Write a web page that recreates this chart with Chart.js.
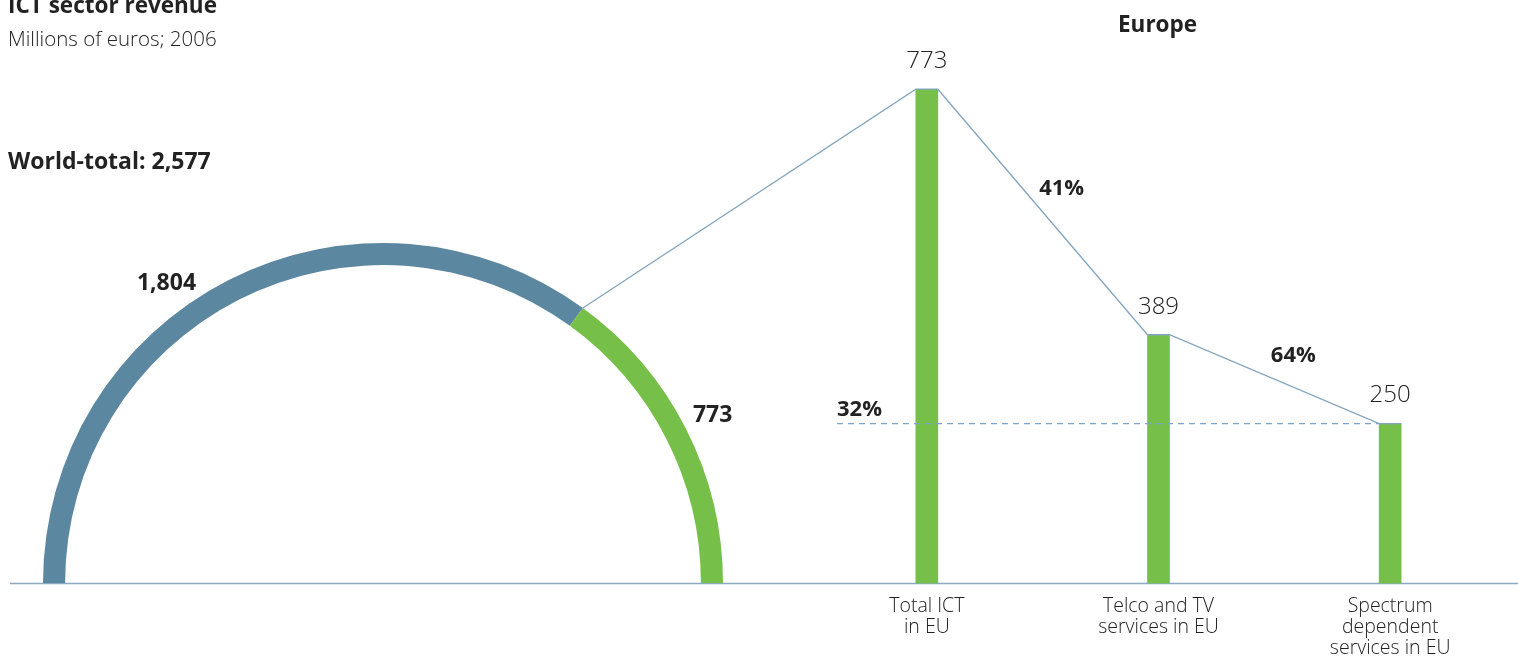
<!DOCTYPE html>
<html><head><meta charset="utf-8">
<script src="https://cdn.jsdelivr.net/npm/chart.js@4.4.1/dist/chart.umd.min.js"></script>
<style>
body{margin:0;width:1518px;height:659px;overflow:hidden;background:#fff;font-family:"Open Sans",sans-serif;color:#222}
canvas{position:absolute;left:0;top:0}
.t{position:absolute;white-space:nowrap;line-height:1}
</style></head><body>
<canvas id="bars" width="1518" height="659"></canvas>
<canvas id="arc" width="1518" height="659"></canvas>
<div class="t" style="left:8px;top:-6px;font-size:22.5px;font-weight:700">ICT sector revenue</div>
<div class="t" style="left:8px;top:28px;font-size:20.5px;font-weight:300;color:#222">Millions of euros; 2006</div>
<div class="t" style="left:8px;top:149px;font-size:23px;font-weight:700">World-total: 2,577</div>
<div class="t" style="left:1118px;top:13px;font-size:22.5px;font-weight:700">Europe</div>
<script>
// ---- data ----
const worldLabels = ['Rest of world', 'EU'];
const worldValues = [1804, 773];
const euCategories = [['Total ICT', 'in EU'], ['Telco and TV', 'services in EU'], ['Spectrum', 'dependent', 'services in EU']];
const euValues = [773, 389, 250];
const stepShares = ['41%', '64%'];
const overallShare = '32%';

const GREEN = '#76bf48', BLUE = '#5b87a1', LINE = '#84a5bf';
const FONT = '"Open Sans", sans-serif';

const barPlugin = {
  id: 'barDeco',
  beforeDatasetsDraw(chart) {
    const ctx = chart.ctx, y0 = chart.scales.y.getPixelForValue(0);
    ctx.save();
    ctx.strokeStyle = '#8aaac4'; ctx.lineWidth = 1.5;
    ctx.beginPath(); ctx.moveTo(10, y0); ctx.lineTo(1518, y0); ctx.stroke();
    ctx.restore();
  },
  afterDatasetsDraw(chart) {
    const ctx = chart.ctx, bars = chart.getDatasetMeta(0).data;
    const last = bars[bars.length - 1];
    ctx.save();
    // dashed reference line at last bar level
    ctx.strokeStyle = '#7aa3cf'; ctx.lineWidth = 1.2; ctx.setLineDash([6, 5]);
    ctx.beginPath(); ctx.moveTo(837, last.y); ctx.lineTo(last.x + last.width / 2, last.y); ctx.stroke();
    ctx.setLineDash([]);
    // value labels
    ctx.fillStyle = '#222'; ctx.textAlign = 'center'; ctx.textBaseline = 'middle';
    ctx.font = '300 24px ' + FONT;
    bars.forEach((b, i) => ctx.fillText(String(euValues[i]), b.x, b.y - 28));
    // share labels
    ctx.fillStyle = '#222'; ctx.font = '700 22px ' + FONT;
    for (let i = 0; i < bars.length - 1; i++) {
      const a = bars[i], c = bars[i + 1];
      const mx = ((a.x + a.width / 2) + (c.x - c.width / 2)) / 2, my = (a.y + c.y) / 2;
      ctx.fillText(stepShares[i], mx + 19, my - 23);
    }
    ctx.textAlign = 'left';
    ctx.fillText(overallShare, 837, last.y - 14);
    ctx.restore();
  }
};

const barChart = new Chart(document.getElementById('bars'), {
  type: 'bar',
  data: { labels: euCategories, datasets: [{ data: euValues, backgroundColor: GREEN, barThickness: 22 }] },
  options: {
    responsive: false, animation: false, events: [],
    layout: { padding: { left: 811, right: 12, top: 8, bottom: 0 } },
    plugins: { legend: { display: false }, tooltip: { enabled: false } },
    scales: {
      x: {
        grid: { display: false, drawTicks: false }, border: { display: false },
        ticks: { color: '#222', font: { family: FONT, size: 19.5, weight: '300', lineHeight: 1.08 }, padding: 12, maxRotation: 0, autoSkip: false },
        afterFit(s) { s.height = 75.5; }
      },
      y: { display: false, min: 0, max: 900 }
    }
  },
  plugins: [barPlugin]
});

const arcPlugin = {
  id: 'arcDeco',
  afterDatasetsDraw(chart) {
    const ctx = chart.ctx, arcs = chart.getDatasetMeta(0).data;
    const a0 = arcs[0], a1 = arcs[1];
    const cx = a0.x, cy = a0.y, R = a0.outerRadius;
    const bars = barChart.getDatasetMeta(0).data;
    ctx.save();
    // connector polyline from the arc split to the bar tops
    ctx.strokeStyle = LINE; ctx.lineWidth = 1.3;
    ctx.beginPath();
    ctx.moveTo(cx + R * Math.cos(a0.endAngle), cy + R * Math.sin(a0.endAngle));
    bars.forEach(b => { ctx.lineTo(b.x - b.width / 2, b.y); ctx.lineTo(b.x + b.width / 2, b.y); });
    ctx.stroke();
    // slice labels
    ctx.fillStyle = '#222'; ctx.font = '700 23px ' + FONT; ctx.textAlign = 'center'; ctx.textBaseline = 'middle';
    const r = R + 30;
    const ang0 = a0.startAngle + 0.43 * (a0.endAngle - a0.startAngle);
    const ang1 = (a1.startAngle + a1.endAngle) / 2;
    ctx.fillText(worldValues[0].toLocaleString('en-US'), cx + r * Math.cos(ang0), cy + r * Math.sin(ang0));
    ctx.fillText(worldValues[1].toLocaleString('en-US'), cx + r * Math.cos(ang1), cy + r * Math.sin(ang1));
    ctx.restore();
  }
};

new Chart(document.getElementById('arc'), {
  type: 'doughnut',
  data: { labels: worldLabels, datasets: [{ data: worldValues, backgroundColor: [BLUE, GREEN], borderWidth: 0, rotation: -90, circumference: 180 }] },
  options: {
    responsive: false, animation: false, events: [],
    rotation: -90, circumference: 180, cutout: '93.5%',
    layout: { padding: { left: 43, right: 795, top: 243, bottom: 76 } },
    plugins: { legend: { display: false }, tooltip: { enabled: false } }
  },
  plugins: [arcPlugin]
});
</script>
</body></html>
